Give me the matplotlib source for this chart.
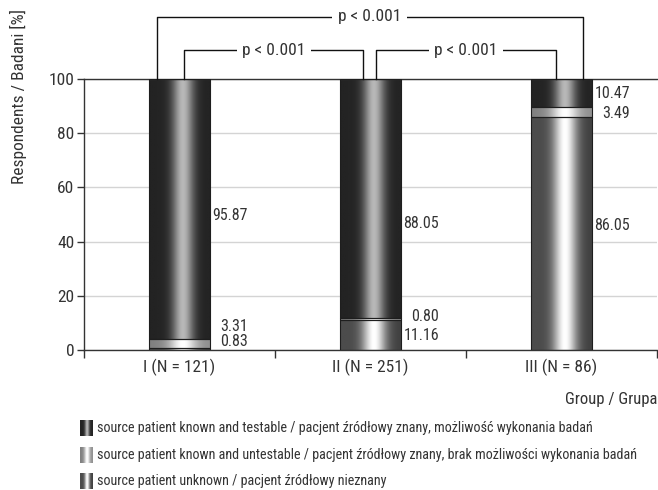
import numpy as np
import matplotlib
matplotlib.use("Agg")
import matplotlib.pyplot as plt

# ---------------- data ----------------
groups = ["I (N = 121)", "II (N = 251)", "III (N = 86)"]
unknown = [0.83, 11.16, 86.05]       # bottom segment
untestable = [3.31, 0.80, 3.49]      # middle segment
testable = [95.87, 88.05, 10.47]     # top segment
series_names = [
    "source patient known and testable / pacjent źródłowy znany, możliwość wykonania badań",
    "source patient known and untestable / pacjent źródłowy znany, brak możliwości wykonania badań",
    "source patient unknown / pacjent źródłowy nieznany",
]
yticks = [0, 20, 40, 60, 80, 100]
p_label = "p < 0.001"
ylabel = "Respondents / Badani [%]"
xlabel = "Group / Grupa"

# ---------------- fonts ----------------
plt.rcParams["font.family"] = ["Roboto Condensed", "DejaVu Sans"]
TXT = "#333333"

fig = plt.figure(figsize=(6.58, 4.90), dpi=100)
ax = fig.add_axes([84/658, 1-350/490, (657-84)/658, (350-79)/490])

x = np.arange(len(groups))
W = 0.32

# gradient profiles (styling)
def grad(lo, hi, w, c=0.55, lo_r=None):
    t = np.linspace(0, 1, 200)
    lo_r = lo if lo_r is None else lo_r
    base = lo + (lo_r - lo) * t
    g = base + (hi - base) * np.exp(-((t - c) / w) ** 2)
    return g[np.newaxis, :]

styles = {
    "testable": grad(0.14, 0.72, 0.17),
    "untestable": grad(0.50, 1.0, 0.22, lo_r=0.56),
    "unknown": grad(0.30, 1.0, 0.19, lo_r=0.25),
}

ax.yaxis.grid(True, color="#d4d4d4", lw=1.0, zorder=0)
ax.set_axisbelow(True)

bottom = np.zeros(len(groups))
seg_defs = [("unknown", unknown), ("untestable", untestable), ("testable", testable)]
for key, vals in seg_defs:
    bars = ax.bar(x, vals, W, bottom=bottom, facecolor="none",
                  edgecolor="#1e1e1e", lw=0.8, zorder=3)
    for r in bars:
        x0, y0 = r.get_x(), r.get_y()
        ax.imshow(styles[key], cmap="gray", vmin=0, vmax=1, aspect="auto",
                  extent=(x0, x0 + r.get_width(), y0, y0 + r.get_height()),
                  zorder=2, interpolation="bilinear")
    bottom = bottom + np.array(vals)

ax.set_xlim(-0.5, 2.5)
ax.set_ylim(0, 100)

# value labels (right-aligned beside each bar)
lab_x = x + 0.359
fs_val = 11.5
def vlab(i, y, v):
    ax.text(lab_x[i], y, f"{v:.2f}", ha="right", va="center", fontsize=fs_val, color=TXT)

# group I
vlab(0, 49.8, testable[0])
vlab(0, 8.5, untestable[0])
vlab(0, 3.0, unknown[0])
# group II
vlab(1, 46.8, testable[1])
vlab(1, 12.4, untestable[1])
vlab(1, 5.5, unknown[1])
# group III
vlab(2, unknown[2] + untestable[2] + testable[2] / 2, testable[2])
vlab(2, unknown[2] + untestable[2] / 2 - 0.5, untestable[2])
vlab(2, 46, unknown[2])

# axes styling
ax.spines["right"].set_visible(False)
for s in ["left", "bottom", "top"]:
    ax.spines[s].set_color("#333333")
    ax.spines[s].set_linewidth(1.0)
ax.set_yticks(yticks)
ax.set_yticklabels([str(v) for v in yticks], fontsize=12.5, color=TXT)
ax.set_xticks(x)
ax.set_xticklabels(groups, fontsize=12.5, color=TXT)
ax.tick_params(axis="x", which="major", length=0, pad=6)
ax.set_xticks([-0.5, 0.5, 1.5, 2.5], minor=True)
ax.tick_params(axis="x", which="minor", length=6, color="#333333", width=1)
ax.tick_params(axis="y", length=5, color="#333333", width=1, pad=2)

fig.text(18/658, 1 - 97/490, ylabel, rotation=90, ha="center", va="center",
         fontsize=12.5, color=TXT)
fig.text(657/658, 1 - 399/490, xlabel, ha="right", va="center", fontsize=12, color=TXT)

# significance brackets
def bracket(xl, xr, y, label):
    ax.plot([xl, xl, xr, xr], [100, y, y, 100], color="#111111", lw=1.0,
            clip_on=False, zorder=4)
    ax.text((xl + xr) / 2, y, label, ha="center", va="center", fontsize=12.5,
            color=TXT, clip_on=False, zorder=5,
            bbox=dict(facecolor="white", edgecolor="none", pad=4))

bracket(-0.118, 2.11, 122.9, p_label)
bracket(0.024, 0.963, 110.7, p_label)
bracket(1.03, 1.97, 110.7, p_label)

# legend
leg_keys = ["testable", "untestable", "unknown"]
rows_y = [428, 455, 481]
for key, name, yy in zip(leg_keys, series_names, rows_y):
    sax = fig.add_axes([80/658, 1 - (yy + 8)/490, 13/658, 16/490])
    sax.imshow(styles[key], cmap="gray", vmin=0, vmax=1, aspect="auto",
               interpolation="bilinear")
    sax.set_xticks([]); sax.set_yticks([])
    for s in sax.spines.values():
        s.set_visible(False)
    fig.text(97/658, 1 - yy/490, name, ha="left", va="center", fontsize=10.2, color=TXT)

fig.savefig("out.png", dpi=100)
